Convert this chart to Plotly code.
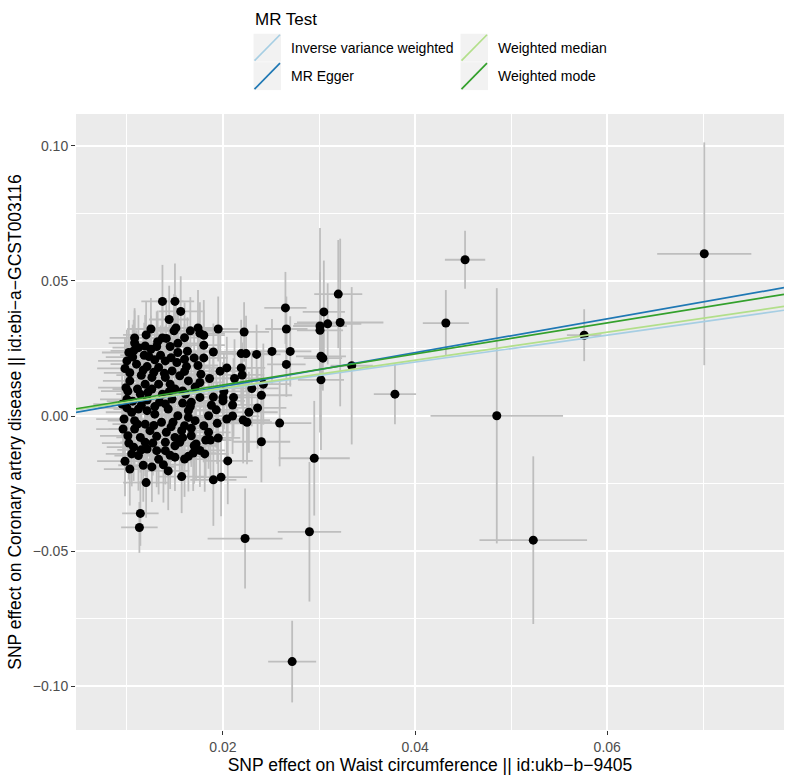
import plotly.graph_objects as go

# ---------------- data ----------------
snp_x = [
    0.0701, 0.0452, 0.0432, 0.0576, 0.0485, 0.0379, 0.0334, 0.0523, 0.0295, 0.0290,
    0.0272, 0.0259, 0.0223, 0.0114, 0.0113, 0.0265, 0.0266, 0.0251, 0.0270, 0.0266,
    0.0320, 0.0305, 0.0322, 0.0309, 0.0301, 0.0301, 0.0302, 0.0304, 0.0302, 0.0235,
    0.0222, 0.0219, 0.0224, 0.0195, 0.0190, 0.0180, 0.0204, 0.0219, 0.0220, 0.0212,
    0.0166, 0.0174, 0.0176, 0.0180, 0.0180, 0.0174, 0.0162, 0.0177, 0.0186, 0.0137,
    0.0150, 0.0156, 0.0144, 0.0125, 0.0151, 0.0149, 0.0108, 0.0137, 0.0141, 0.0153,
    0.0119, 0.0112, 0.0131, 0.0145, 0.0125, 0.0102, 0.0107, 0.0153, 0.0123, 0.0135,
    0.0146, 0.0100, 0.0129, 0.0140, 0.0152, 0.0110, 0.0121, 0.0098, 0.0133, 0.0147,
    0.0115, 0.0126, 0.0140, 0.0155, 0.0103, 0.0164, 0.0119, 0.0133, 0.0145, 0.0112,
    0.0105, 0.0121, 0.0129, 0.0143, 0.0153, 0.0164, 0.0108, 0.0119, 0.0136, 0.0148,
    0.0160, 0.0108, 0.0124, 0.0141, 0.0157, 0.0101, 0.0114, 0.0150, 0.0167, 0.0119,
    0.0140, 0.0155, 0.0107, 0.0121, 0.0131, 0.0140, 0.0105, 0.0112, 0.0150, 0.0160,
    0.0098, 0.0138, 0.0157, 0.0120, 0.0240, 0.0205, 0.0198, 0.0190, 0.0195, 0.0182,
    0.0187, 0.0176, 0.0169, 0.0164, 0.0204, 0.0194, 0.0180, 0.0167, 0.0171, 0.0221,
    0.0225, 0.0193, 0.0227, 0.0210, 0.0211, 0.0200, 0.0240, 0.0230, 0.0176, 0.0167,
    0.0164, 0.0185, 0.0201, 0.0200, 0.0242, 0.0101, 0.0114, 0.0126, 0.0137, 0.0150,
    0.0161, 0.0171, 0.0106, 0.0121, 0.0134, 0.0147, 0.0158, 0.0095, 0.0097, 0.0096,
    0.0172, 0.0181, 0.0126, 0.0143, 0.0103, 0.0176, 0.0197, 0.0210, 0.0188, 0.0236,
    0.0103, 0.0117, 0.0128, 0.0139, 0.0160, 0.0099, 0.0111, 0.0122, 0.0144, 0.0158,
    0.0100, 0.0115, 0.0129, 0.0140, 0.0166, 0.0100, 0.0111, 0.0128, 0.0146, 0.0131,
    0.0158, 0.0102, 0.0127, 0.0150, 0.0115, 0.0170, 0.0108, 0.0120, 0.0132, 0.0160,
    0.0118, 0.0163, 0.0170, 0.0106, 0.0160, 0.0190, 0.0185, 0.0133, 0.0145, 0.0117,
]
snp_y = [
    0.0600, 0.0578, 0.0344, 0.0299, 0.0001, 0.0081, 0.0186, -0.0459, -0.0156, -0.0428,
    -0.0908, -0.0026, -0.0453, -0.0360, -0.0412, 0.0400, 0.0322, 0.0239, 0.0239, 0.0191,
    0.0451, 0.0385, 0.0346, 0.0341, 0.0333, 0.0317, 0.0221, 0.0214, 0.0134, 0.0228,
    0.0311, 0.0231, 0.0231, 0.0322, 0.0237, 0.0262, 0.0178, 0.0178, 0.0152, 0.0139,
    0.0315, 0.0326, 0.0306, 0.0299, 0.0215, 0.0187, 0.0183, 0.0155, 0.0139, 0.0424,
    0.0424, 0.0387, 0.0357, 0.0322, 0.0326, 0.0315, 0.0289, 0.0289, 0.0287, 0.0269,
    0.0259, 0.0253, 0.0257, 0.0257, 0.0247, 0.0235, 0.0241, 0.0235, 0.0220, 0.0225,
    0.0216, 0.0204, 0.0208, 0.0204, 0.0198, 0.0192, 0.0183, 0.0176, 0.0180, 0.0167,
    0.0151, 0.0143, 0.0143, 0.0149, 0.0130, 0.0130, 0.0118, 0.0118, 0.0118, 0.0026,
    0.0014, 0.0020, 0.0007, 0.0026, 0.0001, 0.0020, -0.0017, -0.0030, -0.0023, -0.0023,
    -0.0036, -0.0048, -0.0054, -0.0060, -0.0054, -0.0073, -0.0079, -0.0079, -0.0073, -0.0097,
    -0.0097, -0.0097, -0.0115, -0.0122, -0.0128, -0.0128, -0.0140, -0.0146, -0.0152, -0.0159,
    -0.0167, -0.0180, -0.0224, -0.0246, -0.0095, -0.0166, -0.0226, -0.0236, -0.0081, -0.0089,
    -0.0089, -0.0127, -0.0137, -0.0149, -0.0011, -0.0027, -0.0036, -0.0045, -0.0017, -0.0015,
    -0.0023, 0.0023, 0.0014, 0.0041, 0.0069, 0.0069, 0.0077, 0.0102, 0.0069, 0.0051,
    -0.0005, 0.0001, 0.0091, 0.0056, 0.0118, 0.0092, 0.0081, 0.0100, 0.0081, 0.0100,
    0.0081, 0.0107, 0.0055, 0.0059, 0.0052, 0.0063, 0.0048, 0.0044, -0.0011, -0.0048,
    -0.0103, -0.0140, -0.0188, -0.0203, -0.0196, 0.0124, 0.0166, 0.0000, 0.0040, 0.0030,
    0.0160, 0.0170, 0.0162, 0.0158, 0.0165, 0.0105, 0.0100, 0.0088, 0.0090, 0.0093,
    0.0062, 0.0040, 0.0035, 0.0045, 0.0035, 0.0030, -0.0030, -0.0035, -0.0040, -0.0075,
    -0.0080, -0.0100, -0.0100, -0.0110, -0.0125, -0.0110, 0.0270, 0.0300, 0.0275, 0.0290,
    0.0225, 0.0240, 0.0215, 0.0218, 0.0210, 0.0070, -0.0060, -0.0160, -0.0145, -0.0182,
]
se_x = [
    0.0049, 0.0021, 0.0024, 0.0018, 0.0069, 0.0022, 0.0022, 0.0056, 0.0037, 0.0033,
    0.0025, 0.0033, 0.0039, 0.0019, 0.0019, 0.0022, 0.0022, 0.0020, 0.0022, 0.0020,
    0.0025, 0.0022, 0.0045, 0.0035, 0.0028, 0.0024, 0.0026, 0.0020, 0.0024, 0.0025,
    0.0026, 0.0023, 0.0028, 0.0021, 0.0024, 0.0022, 0.0027, 0.0025, 0.0023, 0.0029,
    0.0024, 0.0020, 0.0026, 0.0022, 0.0025, 0.0021, 0.0023, 0.0027, 0.0024, 0.0022,
    0.0020, 0.0023, 0.0021, 0.0025, 0.0019, 0.0022, 0.0026, 0.0024, 0.0018, 0.0021,
    0.0022, 0.0027, 0.0020, 0.0023, 0.0019, 0.0028, 0.0024, 0.0021, 0.0025, 0.0020,
    0.0022, 0.0030, 0.0021, 0.0024, 0.0020, 0.0027, 0.0023, 0.0029, 0.0022, 0.0021,
    0.0026, 0.0021, 0.0023, 0.0020, 0.0028, 0.0022, 0.0025, 0.0021, 0.0024, 0.0026,
    0.0027, 0.0023, 0.0022, 0.0021, 0.0024, 0.0020, 0.0028, 0.0025, 0.0022, 0.0021,
    0.0023, 0.0027, 0.0022, 0.0020, 0.0024, 0.0029, 0.0025, 0.0021, 0.0023, 0.0026,
    0.0022, 0.0021, 0.0028, 0.0024, 0.0023, 0.0020, 0.0027, 0.0025, 0.0022, 0.0024,
    0.0029, 0.0023, 0.0025, 0.0024, 0.0030, 0.0026, 0.0027, 0.0024, 0.0023, 0.0025,
    0.0022, 0.0026, 0.0024, 0.0023, 0.0027, 0.0025, 0.0022, 0.0024, 0.0021, 0.0028,
    0.0026, 0.0023, 0.0030, 0.0025, 0.0024, 0.0022, 0.0032, 0.0028, 0.0021, 0.0023,
    0.0022, 0.0024, 0.0026, 0.0023, 0.0029, 0.0028, 0.0025, 0.0022, 0.0021, 0.0023,
    0.0024, 0.0022, 0.0027, 0.0023, 0.0021, 0.0022, 0.0024, 0.0030, 0.0029, 0.0028,
    0.0023, 0.0025, 0.0024, 0.0022, 0.0027, 0.0024, 0.0026, 0.0028, 0.0023, 0.0030,
    0.0027, 0.0024, 0.0022, 0.0021, 0.0023, 0.0029, 0.0026, 0.0023, 0.0022, 0.0024,
    0.0028, 0.0025, 0.0022, 0.0021, 0.0024, 0.0030, 0.0026, 0.0023, 0.0022, 0.0021,
    0.0024, 0.0028, 0.0023, 0.0022, 0.0025, 0.0024, 0.0027, 0.0024, 0.0022, 0.0021,
    0.0025, 0.0023, 0.0022, 0.0028, 0.0024, 0.0026, 0.0023, 0.0022, 0.0024, 0.0026,
]
se_y = [
    0.0412, 0.0107, 0.0122, 0.0096, 0.0472, 0.0111, 0.0291, 0.0310, 0.0212, 0.0258,
    0.0151, 0.0160, 0.0185, 0.0120, 0.0094, 0.0133, 0.0120, 0.0120, 0.0130, 0.0120,
    0.0200, 0.0190, 0.0310, 0.0150, 0.0200, 0.0378, 0.0120, 0.0120, 0.0260, 0.0110,
    0.0110, 0.0125, 0.0140, 0.0120, 0.0105, 0.0130, 0.0115, 0.0135, 0.0120, 0.0145,
    0.0125, 0.0140, 0.0115, 0.0130, 0.0120, 0.0110, 0.0135, 0.0125, 0.0115, 0.0135,
    0.0140, 0.0130, 0.0125, 0.0115, 0.0120, 0.0135, 0.0110, 0.0125, 0.0130, 0.0120,
    0.0115, 0.0120, 0.0130, 0.0110, 0.0125, 0.0120, 0.0115, 0.0135, 0.0120, 0.0110,
    0.0125, 0.0115, 0.0120, 0.0130, 0.0110, 0.0125, 0.0120, 0.0115, 0.0125, 0.0130,
    0.0120, 0.0115, 0.0125, 0.0120, 0.0130, 0.0115, 0.0120, 0.0125, 0.0115, 0.0120,
    0.0125, 0.0120, 0.0115, 0.0125, 0.0130, 0.0120, 0.0115, 0.0125, 0.0120, 0.0130,
    0.0120, 0.0130, 0.0125, 0.0115, 0.0120, 0.0125, 0.0130, 0.0120, 0.0115, 0.0125,
    0.0120, 0.0130, 0.0125, 0.0120, 0.0135, 0.0125, 0.0120, 0.0130, 0.0125, 0.0140,
    0.0130, 0.0140, 0.0135, 0.0130, 0.0150, 0.0160, 0.0145, 0.0170, 0.0135, 0.0140,
    0.0150, 0.0135, 0.0140, 0.0130, 0.0145, 0.0150, 0.0135, 0.0130, 0.0125, 0.0160,
    0.0155, 0.0140, 0.0150, 0.0135, 0.0145, 0.0130, 0.0165, 0.0140, 0.0125, 0.0130,
    0.0125, 0.0135, 0.0140, 0.0130, 0.0150, 0.0120, 0.0125, 0.0115, 0.0130, 0.0120,
    0.0125, 0.0130, 0.0120, 0.0125, 0.0115, 0.0130, 0.0120, 0.0125, 0.0120, 0.0130,
    0.0135, 0.0140, 0.0130, 0.0145, 0.0135, 0.0125, 0.0130, 0.0140, 0.0135, 0.0150,
    0.0125, 0.0120, 0.0130, 0.0115, 0.0125, 0.0120, 0.0130, 0.0125, 0.0115, 0.0120,
    0.0130, 0.0125, 0.0120, 0.0115, 0.0125, 0.0130, 0.0120, 0.0125, 0.0130, 0.0120,
    0.0125, 0.0135, 0.0120, 0.0130, 0.0125, 0.0140, 0.0120, 0.0125, 0.0115, 0.0130,
    0.0120, 0.0125, 0.0115, 0.0120, 0.0130, 0.0140, 0.0135, 0.0130, 0.0125, 0.0135,
]

methods = ["Inverse variance weighted", "MR Egger", "Weighted median", "Weighted mode"]
slopes = [0.499, 0.626, 0.517, 0.574]
intercepts = [0.0, -0.0016, 0.0, 0.0]
method_colors = ["#A6CEE3", "#1F78B4", "#B2DF8A", "#33A02C"]

x_title = "SNP effect on Waist circumference || id:ukb\u2212b\u22129405"
y_title = "SNP effect on Coronary artery disease || id:ebi\u2212a\u2212GCST003116"
legend_title = "MR Test"

# ---------------- layout geometry ----------------
W, H = 800, 783
ML, MR, MT, MB = 76, 16, 114, 51
PW, PH = W - ML - MR, H - MT - MB
XR = [0.0047, 0.0784]
YR = [-0.1161, 0.1117]
FONT = "Liberation Sans, Arial, Helvetica, sans-serif"


def pxx(p):
    return (p - ML) / PW


def pxy(p):
    return (H - MB - p) / PH


fig = go.Figure()

fig.add_trace(go.Scatter(
    x=snp_x, y=snp_y, mode="markers",
    marker=dict(color="black", size=9),
    error_x=dict(type="data", array=se_x, color="#BEBEBE", thickness=1.8, width=0),
    error_y=dict(type="data", array=se_y, color="#BEBEBE", thickness=1.8, width=0),
    showlegend=False, hoverinfo="skip",
))

for m, b, a, c in zip(methods, slopes, intercepts, method_colors):
    fig.add_trace(go.Scatter(
        x=XR, y=[a + b * XR[0], a + b * XR[1]], mode="lines",
        line=dict(color=c, width=1.7), name=m, showlegend=False,
    ))

# ---------------- manual legend (ggplot style, 2 columns) ----------------
shapes = []
annotations = []
annotations.append(dict(x=pxx(253), y=pxy(19), xref="paper", yref="paper",
                        text=legend_title, showarrow=False, xanchor="left", yanchor="middle",
                        font=dict(family=FONT, size=17, color="black")))
key_cols = [253.5, 460.5]
text_cols = [289, 496]
row_tops = [33.5, 62]
for i, (m, c) in enumerate(zip(methods, method_colors)):
    col, row = i // 2, i % 2
    x0, x1 = key_cols[col], key_cols[col] + 27.5
    y0, y1 = row_tops[row], row_tops[row] + 28
    shapes.append(dict(type="rect", xref="paper", yref="paper",
                       x0=pxx(x0), x1=pxx(x1), y0=pxy(y1), y1=pxy(y0),
                       fillcolor="#F2F2F2", line=dict(width=0), layer="above"))
    shapes.append(dict(type="line", xref="paper", yref="paper",
                       x0=pxx(x0 + 1), x1=pxx(x1 - 1), y0=pxy(y1 - 1), y1=pxy(y0 + 1),
                       line=dict(color=c, width=1.7), layer="above"))
    annotations.append(dict(x=pxx(text_cols[col]), y=pxy((y0 + y1) / 2), xref="paper", yref="paper",
                            text=m, showarrow=False, xanchor="left", yanchor="middle",
                            font=dict(family=FONT, size=14, color="black")))

axis_common = dict(
    showgrid=True, gridcolor="white", gridwidth=2,
    zeroline=False, showline=False,
    ticks="outside", ticklen=4, tickwidth=1.4, tickcolor="#333333",
    tickfont=dict(family=FONT, size=14, color="#4D4D4D"),
    tickformat=".2f", tickmode="linear", tick0=0,
)

fig.update_layout(
    width=W, height=H,
    margin=dict(l=ML, r=MR, t=MT, b=MB, pad=0),
    paper_bgcolor="white", plot_bgcolor="#EBEBEB",
    font=dict(family=FONT, color="black"),
    xaxis=dict(**axis_common, range=XR, dtick=0.02,
               minor=dict(dtick=0.01, tick0=0, showgrid=True, gridcolor="white", gridwidth=1),
               title=dict(text=x_title, font=dict(family=FONT, size=17.5, color="black"), standoff=4)),
    yaxis=dict(**axis_common, range=YR, dtick=0.05,
               minor=dict(dtick=0.025, tick0=0, showgrid=True, gridcolor="white", gridwidth=1),
               title=dict(text=y_title, font=dict(family=FONT, size=17.5, color="black"), standoff=6)),
    shapes=shapes, annotations=annotations,
    showlegend=False,
)

fig.write_html("out.html")
